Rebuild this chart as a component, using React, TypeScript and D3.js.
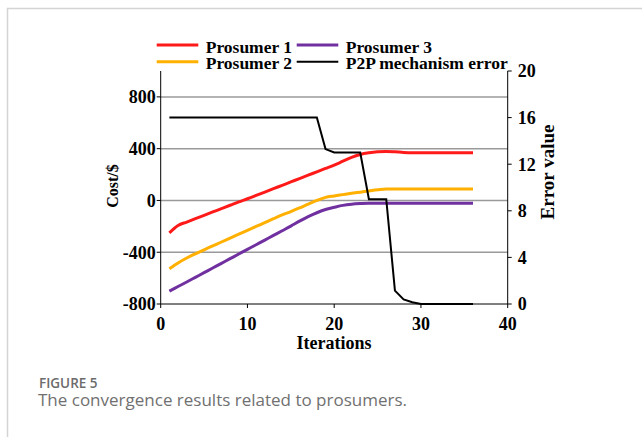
import React from "react";
import * as d3 from "d3";

const iterations = [1,2,3,4,5,6,7,8,9,10,11,12,13,14,15,16,17,18,19,20,21,22,23,24,25,26,27,28,29,30,31,32,33,34,35,36];
const prosumer1 = [-250,-193,-167,-141,-115,-89,-63,-37,-11,13,39,65,91,117,143,169,195,221,247,273,303,333,355,368,376,379,376,371,369,369,369,369,369,369,369,369];
const prosumer2 = [-528,-483,-445,-412,-381,-351,-321,-291,-261,-231,-201,-171,-141,-112,-86,-58,-28,0,24,35,45,55,64,73,82,89,89,89,89,89,89,89,89,89,89,89];
const prosumer3 = [-700,-665,-630,-594,-558,-522,-486,-450,-414,-378,-342,-306,-270,-234,-198,-160,-125,-95,-70,-53,-38,-29,-24,-21,-21,-21,-21,-21,-21,-21,-21,-21,-21,-21,-21,-21];
const p2pError = [16,16,16,16,16,16,16,16,16,16,16,16,16,16,16,16,16,16,13.3,13,13,13,13,9,9,9,1.15,0.4,0.15,0,0,0,0,0,0,0];

const xTicks = [0,10,20,30,40];
const leftTicks = [-800,-400,0,400,800];
const rightTicks = [0,4,8,12,16,20];

const seriesNames = ["Prosumer 1","Prosumer 2","Prosumer 3","P2P mechanism error"];
const seriesColors = ["#ff1a1a","#ffb000","#7030a0","#000000"];

export default function App() {
  const x = d3.scaleLinear().domain([0, 40]).range([160.7, 507.7]);
  const yL = d3.scaleLinear().domain([-800, 1000]).range([304, 71]);
  const yR = d3.scaleLinear().domain([0, 20]).range([304, 71]);

  const lineL = (vals: number[]) =>
    d3.line<number>().x((_, i) => x(iterations[i])).y((d) => yL(d)).curve(d3.curveMonotoneX)(vals) || "";
  const lineR = d3.line<number>().x((_, i) => x(iterations[i])).y((d) => yR(d))(p2pError) || "";

  const font = "'Liberation Serif', 'Times New Roman', serif";
  const legend = [
    { name: seriesNames[0], color: seriesColors[0], x1: 156.7, y: 45, w: 3 },
    { name: seriesNames[2], color: seriesColors[2], x1: 296.7, y: 45, w: 3 },
    { name: seriesNames[1], color: seriesColors[1], x1: 156.7, y: 61.7, w: 3 },
    { name: seriesNames[3], color: seriesColors[3], x1: 296.7, y: 61.7, w: 2 },
  ];

  return (
    <svg width={642} height={437} style={{ position: "absolute", left: 0, top: 0, background: "#fff" }}>
      <rect x={0} y={0} width={642} height={437} fill="#fff" />
      <path d="M7.5,437 V8.5 H642" fill="none" stroke="#d4d4d4" strokeWidth={1.5} />

      {leftTicks.filter((t) => t !== -800).map((t) => (
        <line key={"g" + t} x1={x(0)} x2={x(40)} y1={yL(t)} y2={yL(t)} stroke="#9a9a9a" strokeWidth={1.5} />
      ))}

      <line x1={x(0)} x2={x(0)} y1={yL(1000)} y2={yL(-800)} stroke="#000" strokeWidth={1} />
      <line x1={x(40)} x2={x(40)} y1={yR(20)} y2={yR(0)} stroke="#000" strokeWidth={1} />
      <line x1={x(0)} x2={x(40)} y1={yL(-800)} y2={yL(-800)} stroke="#000" strokeWidth={1} />

      {leftTicks.map((t) => (
        <g key={"l" + t}>
          <line x1={x(0) - 4} x2={x(0)} y1={yL(t)} y2={yL(t)} stroke="#000" />
          <text x={x(0) - 5} y={yL(t)} dy="0.35em" textAnchor="end" fontFamily={font} fontWeight="bold" fontSize={18}>{t}</text>
        </g>
      ))}
      {rightTicks.map((t) => (
        <g key={"r" + t}>
          <line x1={x(40)} x2={x(40) + 4} y1={yR(t)} y2={yR(t)} stroke="#000" />
          <text x={x(40) + 10} y={yR(t)} dy="0.35em" textAnchor="start" fontFamily={font} fontWeight="bold" fontSize={18}>{t}</text>
        </g>
      ))}
      {xTicks.map((t) => (
        <g key={"x" + t}>
          <line x1={x(t)} x2={x(t)} y1={yL(-800)} y2={yL(-800) + 4} stroke="#000" />
          <text x={x(t)} y={329.5} textAnchor="middle" fontFamily={font} fontWeight="bold" fontSize={18}>{t}</text>
        </g>
      ))}

      <text x={334} y={348.5} textAnchor="middle" fontFamily={font} fontWeight="bold" fontSize={18}>Iterations</text>
      <text transform="translate(112,186) rotate(-90)" dy="0.35em" textAnchor="middle" fontFamily={font} fontWeight="bold" fontSize={16}>Cost/$</text>
      <text transform="translate(547,172) rotate(-90)" dy="0.35em" textAnchor="middle" fontFamily={font} fontWeight="bold" fontSize={19}>Error value</text>

      <path d={lineL(prosumer3)} fill="none" stroke={seriesColors[2]} strokeWidth={3} />
      <path d={lineL(prosumer2)} fill="none" stroke={seriesColors[1]} strokeWidth={3} />
      <path d={lineL(prosumer1)} fill="none" stroke={seriesColors[0]} strokeWidth={3} />
      <path d={lineR} fill="none" stroke="#000" strokeWidth={2} />

      {legend.map((l) => (
        <g key={l.name}>
          <line x1={l.x1} x2={l.x1 + 41.6} y1={l.y} y2={l.y} stroke={l.color} strokeWidth={l.w} />
          <text x={l.x1 + 49} y={l.y + 7.5} fontFamily={font} fontWeight="bold" fontSize={17.5}>{l.name}</text>
        </g>
      ))}

      <text x={39} y={387.5} fontFamily="'Open Sans', sans-serif" fontWeight={600} fontSize={13.5} fill="#6b6b6b">FIGURE 5</text>
      <text x={38} y={405.5} fontFamily="'Open Sans', sans-serif" fontWeight={400} fontSize={17} fill="#707070">The convergence results related to prosumers.</text>
    </svg>
  );
}
